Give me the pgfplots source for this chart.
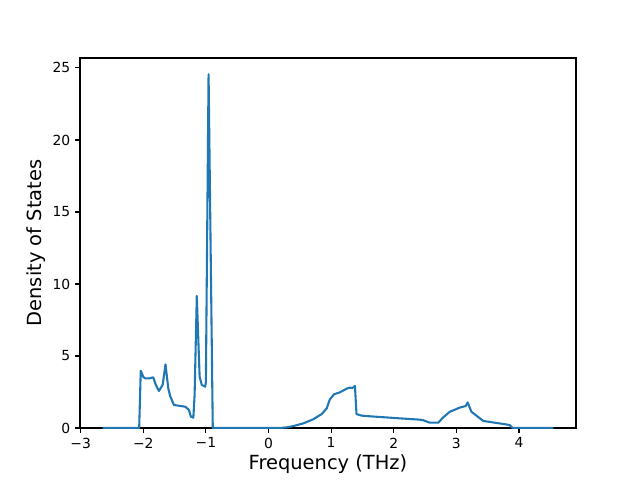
\documentclass[border=0pt]{standalone}
\usepackage{fontspec}
\setmainfont{DejaVu Sans}
\usepackage{pgfplots}
\pgfplotsset{compat=1.18}
\usetikzlibrary{calc}
\definecolor{mplblue}{HTML}{1F77B4}
\begin{document}
\begin{tikzpicture}
\begin{axis}[
  scale only axis,
  width=357.1pt, height=266.4pt,
  xmin=-3.01, xmax=4.91, ymin=0, ymax=25.69,
  xtick={-3,-2,-1,0,1,2,3,4},
  xticklabels={−3,−2,−1,0,1,2,3,4},
  ytick={0,5,10,15,20,25},
  yticklabels={0,5,10,15,20,25},
  tick align=outside,
  tick pos=left,
  major tick length=3.5pt,
  every tick/.style={line width=0.8pt, black},
  axis line style={line width=0.8pt},
  ticklabel style={font=\fontsize{10}{12}\selectfont},
  xlabel={Frequency (THz)},
  ylabel={Density of States},
  label style={font=\fontsize{14}{16}\selectfont},
  xlabel style={yshift=2pt},
  ylabel style={yshift=-2pt},
  clip=true,
]
\addplot[mplblue, line width=1.5pt, line join=round] coordinates {
(-2.65,0) (-2.10,0) (-2.065,0) (-2.04,3.98) (-2.00,3.55) (-1.97,3.45) (-1.90,3.45) (-1.84,3.52) (-1.80,3.0)
(-1.75,2.57) (-1.69,2.99) (-1.645,4.42) (-1.60,2.75) (-1.57,2.22) (-1.51,1.6)
(-1.33,1.48) (-1.27,1.25) (-1.24,0.79) (-1.20,0.72) (-1.18,2.3) (-1.145,9.17)
(-1.10,3.56) (-1.065,2.99) (-1.01,2.87) (-1.0,3.2) (-0.957,24.56) (-0.89,0)
(0.18,0) (0.3,0.05) (0.4,0.14) (0.555,0.32) (0.71,0.6) (0.85,0.97) (0.93,1.37)
(0.98,1.99) (1.045,2.34) (1.14,2.48) (1.257,2.75) (1.30,2.8) (1.34,2.78) (1.38,2.92)
(1.405,0.97) (1.485,0.86) (1.6,0.82) (2.10,0.67) (2.42,0.58) (2.47,0.54) (2.575,0.37)
(2.71,0.37) (2.79,0.74) (2.895,1.13) (3.05,1.41) (3.15,1.53) (3.18,1.78) (3.24,1.13)
(3.43,0.49) (3.69,0.32) (3.85,0.21) (3.90,0) (4.55,0)
};
\end{axis}
\useasboundingbox ($(current axis.south west)+(-57.6pt,-37.44pt)$) rectangle ($(current axis.north east)+(46.08pt,41.76pt)$);
\end{tikzpicture}
\end{document}
